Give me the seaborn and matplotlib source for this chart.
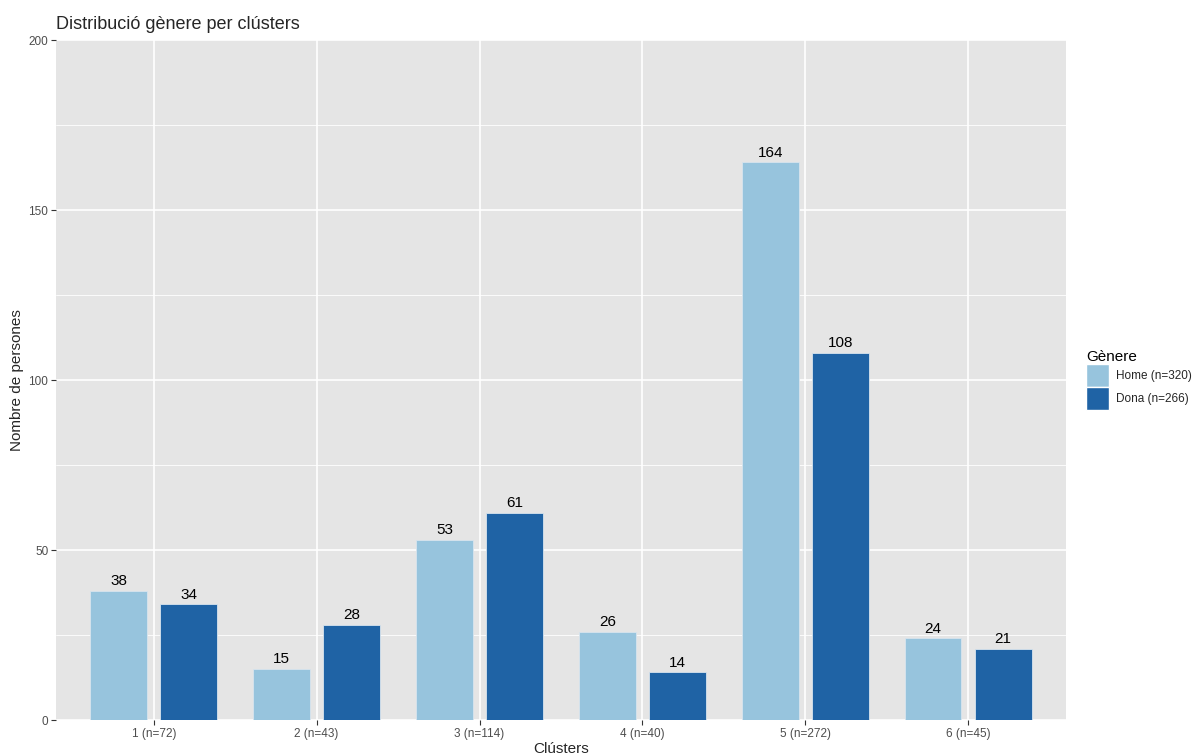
import matplotlib.pyplot as plt
import seaborn as sns
import pandas as pd
from matplotlib.patches import Patch

# Data
clusters = ["1 (n=72)", "2 (n=43)", "3 (n=114)", "4 (n=40)", "5 (n=272)", "6 (n=45)"]
home = [38, 15, 53, 26, 164, 24]
dona = [34, 28, 61, 14, 108, 21]
genders = ["Home (n=320)", "Dona (n=266)"]
colors = ["#97c4dd", "#1f63a5"]

df = pd.DataFrame({
    "Clúster": clusters * 2,
    "Gènere": [genders[0]] * len(clusters) + [genders[1]] * len(clusters),
    "Persones": home + dona,
})

sns.set_theme(style="darkgrid")
plt.rcParams["font.family"] = ["Liberation Sans", "DejaVu Sans"]

fig = plt.figure(figsize=(12.03, 7.56), dpi=100)
ax = fig.add_axes([0.0466, 0.0476, 0.8394, 0.8994])
ax.set_facecolor("#e5e5e5")

sns.barplot(data=df, x="Clúster", y="Persones", hue="Gènere", order=clusters,
            hue_order=genders, palette=colors, saturation=1, width=0.86, gap=0.19,
            edgecolor="#d8e4ee", linewidth=0.6, ax=ax, legend=False, zorder=3)

for cont in ax.containers:
    ax.bar_label(cont, padding=2, fontsize=11, color="black")

ax.set_xlim(-0.6, 5.6)
ax.set_ylim(0, 200)
ax.set_yticks([0, 50, 100, 150, 200])
ax.set_yticks([25, 75, 125, 175], minor=True)
ax.grid(which="major", color="white", linewidth=1.2, zorder=0)
ax.grid(which="minor", axis="y", color="white", linewidth=0.6, zorder=0)
ax.set_axisbelow(True)
for s in ax.spines.values():
    s.set_visible(False)

ax.tick_params(axis="both", which="major", length=3.5, width=0.8, color="#333333",
               labelsize=8.5, labelcolor="#4d4d4d", pad=2, bottom=True, left=True)
ax.tick_params(axis="y", which="minor", length=0)

ax.set_title("Distribució gènere per clústers", loc="left", fontsize=13, pad=8)
ax.set_xlabel("Clústers", fontsize=11, labelpad=2)
ax.set_ylabel("Nombre de persones", fontsize=11, labelpad=3)

handles = [Patch(facecolor=c, edgecolor="white", label=g) for c, g in zip(colors, genders)]
leg = ax.legend(handles=handles, title="Gènere", loc="center left",
                bbox_to_anchor=(1.012, 0.5), frameon=False, fontsize=8.5,
                title_fontsize=11, handlelength=1.9, handleheight=2.6,
                labelspacing=0.0, handletextpad=0.6, borderaxespad=0.3)
leg._legend_box.align = "left"
leg.get_title().set_color("black")

fig.savefig("out.png", dpi=100)
